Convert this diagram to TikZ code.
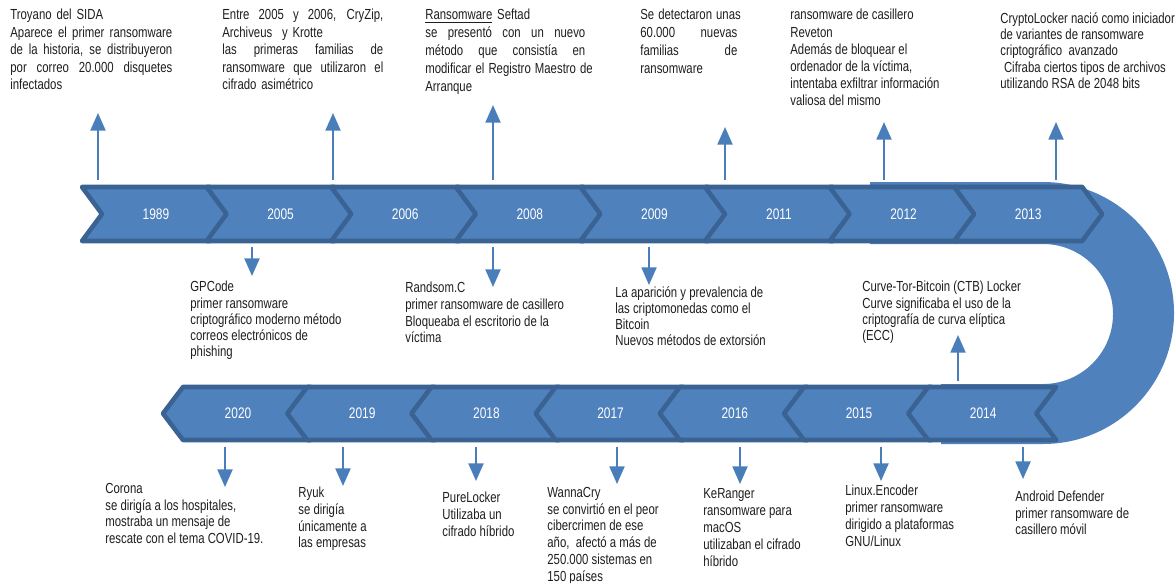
\documentclass[tikz,border=0pt]{standalone}
\usepackage{fontspec}
\setmainfont{Liberation Sans}
\newfontfamily\descfont[FakeStretch=0.78]{Liberation Sans}
\usetikzlibrary{arrows.meta}

\definecolor{chevfill}{HTML}{4F81BD}
\definecolor{chevline}{HTML}{3A6292}
\definecolor{evblue}{HTML}{4A7EBB}
\definecolor{desctext}{HTML}{1E1E1E}

% justified line of a text block
\newcommand\jline[1]{\noindent{\spaceskip=0.28em plus 1fil\relax\hbox to\hsize{#1}}}

\tikzset{
  chev/.style={fill=chevfill, draw=chevline, line width=2.6pt, line join=round},
  yearlbl/.style={text=white, inner sep=0pt, font=\descfont\fontsize{8.7pt}{9pt}\selectfont},
  desc/.style={anchor=north west, inner sep=0pt, align=left, text=desctext,
    font=\descfont\fontsize{8.3pt}{#1}\selectfont},
  evarrow/.style={draw=evblue, line width=1.2pt, -{Triangle[width=8.5pt,length=10pt]}}
}

\begin{document}
\begin{tikzpicture}[x=0.02cm, y=-0.02cm]
  \useasboundingbox (0,0) rectangle (1175,582);

  % U-turn band
  \fill[chevfill] (870,182) -- (1043,182) arc[start angle=-90, end angle=90, radius=131]
    -- (941,444) -- (941,384) -- (1043,384) arc[start angle=90, end angle=-90, radius=70]
    -- (870,244) -- cycle;

  % upper band
  \foreach \yr [count=\k from 0] in {1989,2005,2006,2008,2009,2011,2012,2013}{
    \pgfmathsetmacro\xa{82+124.6*\k}
    \draw[chev] (\xa,187) -- ++(128,0) -- ++(20,27) -- ++(-20,27) -- ++(-128,0) -- ++(20,-27) -- cycle;
    \node[yearlbl] (y\yr) at (\xa+74,214) {\yr};
  }

  % lower band
  \foreach \yr [count=\k from 0] in {2020,2019,2018,2017,2016,2015,2014}{
    \pgfmathsetmacro\xa{163+124.2*\k}
    \draw[chev] (\xa,413.5) -- ++(20,-26.5) -- ++(128,0) -- ++(-20,26.5) -- ++(20,26.5) -- ++(-128,0) -- cycle;
    \node[yearlbl] (y\yr) at (\xa+75,413.5) {\yr};
  }

  % arrows
  \foreach \nm/\xx/\yy in {troyano/98/113, entre/333/113, seftad/493/105, detect/725/127, reveton/884/122, crypto/1056/122}{
    \coordinate (\nm-from) at (\xx,180);
    \coordinate (\nm-to) at (\xx,\yy);
    \draw[evarrow] (\nm-from) -- (\nm-to);
  }
  \foreach \nm/\xx/\yy in {gpcode/252/276, randsom/493/287, bitcoin/649/285}{
    \coordinate (\nm-from) at (\xx,247);
    \coordinate (\nm-to) at (\xx,\yy);
    \draw[evarrow] (\nm-from) -- (\nm-to);
  }
  \coordinate (ctb-from) at (958,381);
  \coordinate (ctb-to) at (958,335);
  \draw[evarrow] (ctb-from) -- (ctb-to);
  \foreach \nm/\xx/\yy in {corona/225/487, ryuk/343/486, pure/476/481, wanna/617/484, keranger/740/484, linux/881/481, android/1023/479}{
    \coordinate (\nm-from) at (\xx,447);
    \coordinate (\nm-to) at (\xx,\yy);
    \draw[evarrow] (\nm-from) -- (\nm-to);
  }

  % texts above
  \node[desc=9.9pt, text width=3.24cm] (troyano) at (10,9) {Troyano del SIDA\\
    \jline{Aparece el primer ransomware}\\ \jline{de la historia, se distribuyeron}\\
    \jline{por correo 20.000 disquetes}\\ infectados};
  \node[desc=9.9pt, text width=3.22cm] (entre) at (222,9) {\jline{Entre 2005 y 2006, CryZip,}\\
    Archiveus\ \ y Krotte\\ \jline{las primeras familias de}\\
    \jline{ransomware que utilizaron el}\\ cifrado asimétrico};
  \node[desc=10.2pt, text width=3.2cm] (seftad) at (425,9) {\underline{Ransomware} Seftad\\
    \jline{se presentó con un nuevo}\\ \jline{método que consistía en}\\
    \jline{modificar el Registro Maestro de}\\ Arranque};
  \node[desc=10.2pt, text width=1.94cm] (detect) at (640,9) {\jline{Se detectaron unas}\\
    \jline{60.000 nuevas}\\ \jline{familias de}\\ ransomware};
  \node[desc=9.75pt] (reveton) at (790,9) {ransomware de casillero\\ Reveton\\
    Además de bloquear el\\ ordenador de la víctima,\\ intentaba exfiltrar información\\
    valiosa del mismo};
  \node[desc=9.36pt] (crypto) at (1000,12) {CryptoLocker nació como iniciador\\
    de variantes de ransomware\\ criptográfico\ \ avanzado\\
    \hspace*{0.25em}Cifraba ciertos tipos de archivos\\ utilizando RSA de 2048 bits};

  % texts between the bands
  \node[desc=9.2pt] (gpcode) at (190,281) {GPCode\\ primer ransomware\\
    criptográfico moderno método\\ correos electrónicos de\\ phishing};
  \node[desc=9.45pt] (randsom) at (405,282) {Randsom.C\\ primer ransomware de casillero\\
    Bloqueaba el escritorio de la\\ víctima};
  \node[desc=9.25pt] (bitcoin) at (615,286) {La aparición y prevalencia de\\
    las criptomonedas como el\\ Bitcoin\\ Nuevos métodos de extorsión};
  \node[desc=9.25pt] (ctb) at (862,281) {Curve-Tor-Bitcoin (CTB) Locker\\
    Curve significaba el uso de la\\ criptografía de curva elíptica\\ (ECC)};

  % texts below
  \node[desc=9.45pt] (corona) at (105,483) {Corona\\ se dirigía a los hospitales,\\
    mostraba un mensaje de\\ rescate con el tema COVID-19.};
  \node[desc=9.45pt] (ryuk) at (298,487) {Ryuk\\ se dirigía\\ únicamente a\\ las empresas};
  \node[desc=9.64pt] (pure) at (442,492) {PureLocker\\ Utilizaba un\\ cifrado híbrido};
  \node[desc=9.5pt] (wanna) at (547,487) {WannaCry\\ se convirtió en el peor\\
    cibercrimen de ese\\ año,\ \ afectó a más de\\ 250.000 sistemas en\\ 150 países};
  \node[desc=9.75pt] (keranger) at (703,488) {KeRanger\\ ransomware para\\ macOS\\
    utilizaban el cifrado\\ híbrido};
  \node[desc=9.64pt] (linux) at (845,485) {Linux.Encoder\\ primer ransomware\\
    dirigido a plataformas\\ GNU/Linux};
  \node[desc=9.36pt] (android) at (1015,491) {Android Defender\\ primer ransomware de\\
    casillero móvil};
\end{tikzpicture}
\end{document}
